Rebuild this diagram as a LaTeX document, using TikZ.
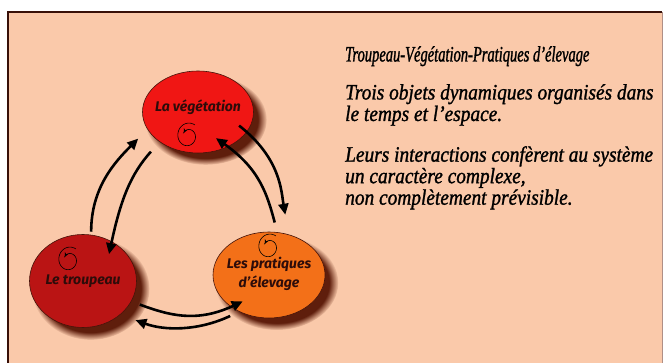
\documentclass[tikz,border=0pt]{standalone}
\usepackage{fontspec}
\usetikzlibrary{shapes.geometric,arrows.meta,shadows,fadings}
\newfontfamily\boxfont{Fira Sans}
\newfontfamily\notefont{Liberation Serif}[FakeStretch=0.88,FakeBold=1.2]
\newfontfamily\headfont{Liberation Serif}[FakeStretch=0.66,FakeBold=1.2]
\definecolor{peach}{RGB}{250,201,170}
\definecolor{vegred}{RGB}{240,22,20}
\definecolor{herdred}{RGB}{186,20,20}
\definecolor{farmorange}{RGB}{243,112,24}
\definecolor{rim}{RGB}{70,20,10}
\definecolor{shade}{RGB}{95,30,12}
\definecolor{ink}{RGB}{45,12,10}

\begin{document}
\begin{tikzpicture}[x=1pt,y=1pt,
% the three coloured discs:
disc/.style = {ellipse, draw=rim, line width=0.6pt, inner sep=0,
            circular drop shadow={shadow xshift=7pt, shadow yshift=-7pt,
            shadow scale=1.1, fill=shade, opacity=1}},
% text inside the discs:
lbl/.style = {font=\boxfont\bfseries\itshape\fontsize{14}{19}\selectfont,
            text=ink, align=center, inner sep=0},
% thick black arrows between the discs:
link/.style = {line width=2.6pt, -{Triangle[length=11pt,width=10pt]}},
% small turning arrows:
swirl/.style = {line width=0.6pt, -{Stealth[length=4.5pt,width=4pt]}},
% text on the right:
note/.style = {font=\notefont\itshape\fontsize{22}{21.5}\selectfont,
            anchor=north west, align=left, inner sep=0}]
\useasboundingbox (0,0) rectangle (664,363);
\fill[white] (0,0) rectangle (664,363);
\fill[peach] (8,0) rectangle (662,351);
\draw[rim!80!black, line width=2pt] (8,0) -- (8,351) -- (662,351);
\draw[shade!50, line width=1pt] (662,351) -- (662,0);

\node[disc, fill=vegred, minimum width=111pt, minimum height=82pt] (veg) at (198,251) {};
\node[disc, fill=herdred, minimum width=107pt, minimum height=93pt] (trp) at (83,82) {};
\node[disc, fill=farmorange, minimum width=112pt, minimum height=86pt] (prat) at (269,88) {};

\node[lbl] (vegl) at ([yshift=5pt]veg.center) {La végétation};
\node[lbl] (trpl) at (trp.center) {Le troupeau};
\node[lbl] (pratl) at ([yshift=1pt]prat.center) {Les pratiques\\d’élevage};

\coordinate (vegs) at ([shift={(-10,-24)}]veg.center);
\coordinate (trps) at ([shift={(-14,21)}]trp.center);
\coordinate (prats) at ([shift={(0,28)}]prat.center);
\foreach \s in {vegs,trps,prats}
  \draw[swirl, shift={(\s)}] plot[domain=55:505, samples=70, smooth]
    ({(12-0.015*(\x-55))*cos(\x)}, {(13.5-0.018*(\x-55))*sin(\x)});

\draw[link, shorten <=3pt, shorten >=13pt] (trp.80) to[out=90, in=225] (veg.199);
\draw[link, shorten <=13pt, shorten >=-13pt] (veg.218) to[out=228, in=78] (trp.54);
\draw[link, shorten <=-10pt, shorten >=20pt] (veg.338) to[out=322, in=100] (prat.64);
\draw[link, shorten <=10pt, shorten >=-15pt] (prat.79) to[out=105, in=325] (veg.311);
\draw[link, shorten <=9pt, shorten >=-13pt] (trp.337) to[out=340, in=205] (prat.220);
\draw[link, shorten <=10pt, shorten >=16pt] (prat.231) to[out=205, in=340] (trp.318);

\node[note, font=\headfont\itshape\fontsize{22}{22}\selectfont] (title) at (345,317) {Troupeau-Végétation-Pratiques d’élevage};
\node[note] (objets) at (345,279) {Trois objets dynamiques organisés dans\\le temps et l’espace.};
\node[note] (inter) at (345,217) {Leurs interactions confèrent au système\\un caractère complexe,\\non complètement prévisible.};
\end{tikzpicture}
\end{document}
